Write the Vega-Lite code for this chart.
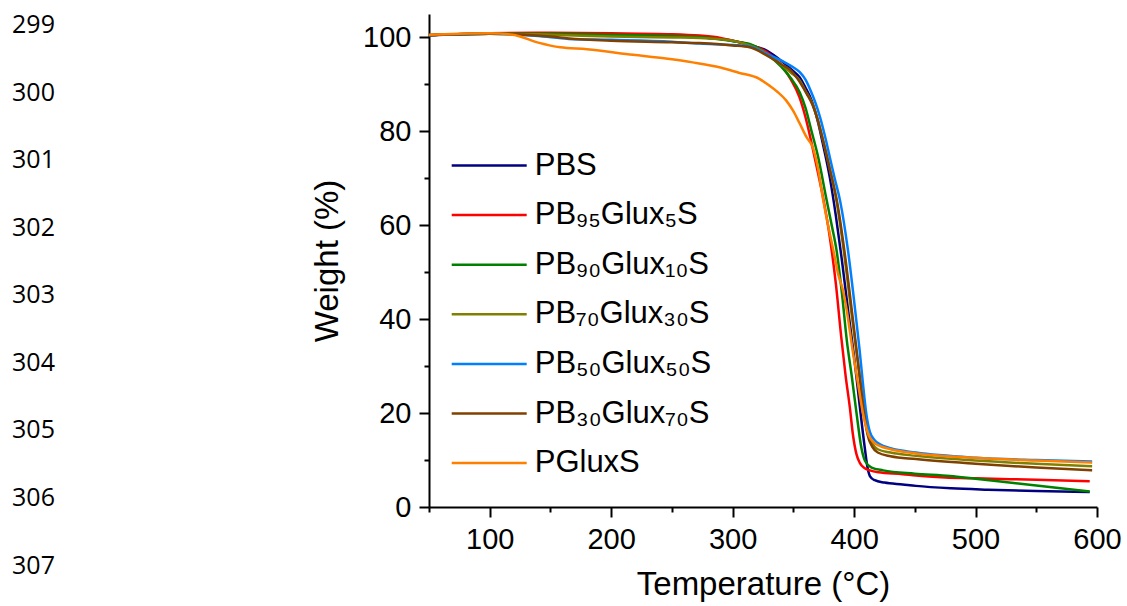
{
  "$schema": "https://vega.github.io/schema/vega-lite/v6.json",
  "padding": {"left": 0, "top": 13, "right": 0, "bottom": 0},
  "background": "white",
  "bounds": "flush",
  "spacing": 362,
  "config": {
    "view": {"stroke": null},
    "axis": {
      "domainColor": "black", "domainWidth": 2, "tickColor": "black", "tickWidth": 2,
      "labelColor": "black", "titleColor": "black",
      "labelFont": "Liberation Sans", "titleFont": "Liberation Sans",
      "labelFontSize": 29, "titleFontSize": 33, "titleFontWeight": "normal", "grid": false
    },
    "legend": {"labelFont": "Liberation Sans", "labelColor": "black"}
  },
  "resolve": {"scale": {"x": "independent", "y": "independent", "color": "independent"}, "legend": {"color": "independent"}},
  "hconcat": [
    {
      "width": 67, "height": 593,
      "data": {"values": [{"line": 299}, {"line": 300}, {"line": 301}, {"line": 302}, {"line": 303}, {"line": 304}, {"line": 305}, {"line": 306}, {"line": 307}]},
      "mark": {"type": "text", "font": "Open Sans", "fontSize": 25, "color": "black"},
      "encoding": {
        "y": {"field": "line", "type": "quantitative", "scale": {"domain": [298.837, 307.614], "reverse": true, "nice": false, "zero": false}, "axis": null},
        "text": {"field": "line", "type": "nominal"}
      }
    },
    {
      "width": 668, "height": 493,
      "data": {"values": [
        {"s":"PBS","t":50,"w":100.5},{"s":"PBS","t":75,"w":100.7},{"s":"PBS","t":100,"w":100.8},{"s":"PBS","t":150,"w":100.8},{"s":"PBS","t":200,"w":100.6},{"s":"PBS","t":250,"w":100.3},{"s":"PBS","t":280,"w":99.9},{"s":"PBS","t":300,"w":99.3},{"s":"PBS","t":314,"w":98.4},{"s":"PBS","t":328,"w":97.2},{"s":"PBS","t":341.6,"w":94.7},{"s":"PBS","t":350,"w":92.8},{"s":"PBS","t":355.3,"w":91.5},{"s":"PBS","t":360,"w":89.3},{"s":"PBS","t":365,"w":86.6},{"s":"PBS","t":370,"w":82.3},{"s":"PBS","t":375,"w":76.5},{"s":"PBS","t":380,"w":70.2},{"s":"PBS","t":385,"w":62},{"s":"PBS","t":390,"w":52.5},{"s":"PBS","t":395,"w":42},{"s":"PBS","t":400,"w":32},{"s":"PBS","t":404,"w":23},{"s":"PBS","t":408.8,"w":12.6},{"s":"PBS","t":411,"w":8.5},{"s":"PBS","t":413,"w":6.6},{"s":"PBS","t":417,"w":5.7},{"s":"PBS","t":425,"w":5.2},{"s":"PBS","t":440,"w":4.8},{"s":"PBS","t":451,"w":4.5},{"s":"PBS","t":480,"w":4.0},{"s":"PBS","t":510,"w":3.7},{"s":"PBS","t":550,"w":3.4},{"s":"PBS","t":594,"w":3.2},
        {"s":"PB₉₅Glux₅S","t":50,"w":100.5},{"s":"PB₉₅Glux₅S","t":100,"w":100.9},{"s":"PB₉₅Glux₅S","t":150,"w":101.0},{"s":"PB₉₅Glux₅S","t":200,"w":100.9},{"s":"PB₉₅Glux₅S","t":250,"w":100.7},{"s":"PB₉₅Glux₅S","t":273,"w":100.4},{"s":"PB₉₅Glux₅S","t":290,"w":99.9},{"s":"PB₉₅Glux₅S","t":300,"w":99.3},{"s":"PB₉₅Glux₅S","t":315,"w":98.4},{"s":"PB₉₅Glux₅S","t":328,"w":96.9},{"s":"PB₉₅Glux₅S","t":336,"w":95.2},{"s":"PB₉₅Glux₅S","t":342,"w":93.4},{"s":"PB₉₅Glux₅S","t":348,"w":91.0},{"s":"PB₉₅Glux₅S","t":355,"w":87.3},{"s":"PB₉₅Glux₅S","t":360,"w":83},{"s":"PB₉₅Glux₅S","t":365,"w":77.5},{"s":"PB₉₅Glux₅S","t":370,"w":71.5},{"s":"PB₉₅Glux₅S","t":375,"w":65.2},{"s":"PB₉₅Glux₅S","t":380,"w":57.5},{"s":"PB₉₅Glux₅S","t":385,"w":47.5},{"s":"PB₉₅Glux₅S","t":389.5,"w":36},{"s":"PB₉₅Glux₅S","t":393,"w":28},{"s":"PB₉₅Glux₅S","t":396.5,"w":21.2},{"s":"PB₉₅Glux₅S","t":399,"w":15.5},{"s":"PB₉₅Glux₅S","t":402,"w":11.2},{"s":"PB₉₅Glux₅S","t":404.7,"w":9.4},{"s":"PB₉₅Glux₅S","t":408.8,"w":8.25},{"s":"PB₉₅Glux₅S","t":413,"w":7.8},{"s":"PB₉₅Glux₅S","t":420,"w":7.4},{"s":"PB₉₅Glux₅S","t":440,"w":7.0},{"s":"PB₉₅Glux₅S","t":451,"w":6.7},{"s":"PB₉₅Glux₅S","t":475,"w":6.3},{"s":"PB₉₅Glux₅S","t":500,"w":6.1},{"s":"PB₉₅Glux₅S","t":550,"w":5.8},{"s":"PB₉₅Glux₅S","t":594,"w":5.5},
        {"s":"PB₉₀Glux₁₀S","t":50,"w":100.5},{"s":"PB₉₀Glux₁₀S","t":100,"w":100.8},{"s":"PB₉₀Glux₁₀S","t":150,"w":100.8},{"s":"PB₉₀Glux₁₀S","t":200,"w":100.6},{"s":"PB₉₀Glux₁₀S","t":250,"w":100.3},{"s":"PB₉₀Glux₁₀S","t":273,"w":100.1},{"s":"PB₉₀Glux₁₀S","t":300,"w":99.2},{"s":"PB₉₀Glux₁₀S","t":314,"w":98.6},{"s":"PB₉₀Glux₁₀S","t":328,"w":96.5},{"s":"PB₉₀Glux₁₀S","t":340,"w":93.8},{"s":"PB₉₀Glux₁₀S","t":348,"w":91.3},{"s":"PB₉₀Glux₁₀S","t":355.3,"w":88.3},{"s":"PB₉₀Glux₁₀S","t":360,"w":85},{"s":"PB₉₀Glux₁₀S","t":365,"w":80},{"s":"PB₉₀Glux₁₀S","t":370,"w":75},{"s":"PB₉₀Glux₁₀S","t":377.5,"w":65.2},{"s":"PB₉₀Glux₁₀S","t":382,"w":59.5},{"s":"PB₉₀Glux₁₀S","t":385.6,"w":54.6},{"s":"PB₉₀Glux₁₀S","t":390,"w":45.5},{"s":"PB₉₀Glux₁₀S","t":394,"w":35.5},{"s":"PB₉₀Glux₁₀S","t":398,"w":28},{"s":"PB₉₀Glux₁₀S","t":402,"w":20},{"s":"PB₉₀Glux₁₀S","t":406,"w":12.6},{"s":"PB₉₀Glux₁₀S","t":409,"w":9.8},{"s":"PB₉₀Glux₁₀S","t":414.4,"w":8.4},{"s":"PB₉₀Glux₁₀S","t":424,"w":7.8},{"s":"PB₉₀Glux₁₀S","t":450,"w":7.1},{"s":"PB₉₀Glux₁₀S","t":479,"w":6.6},{"s":"PB₉₀Glux₁₀S","t":500,"w":6.0},{"s":"PB₉₀Glux₁₀S","t":550,"w":4.6},{"s":"PB₉₀Glux₁₀S","t":594,"w":3.3},
        {"s":"PB₇₀Glux₃₀S","t":50,"w":100.5},{"s":"PB₇₀Glux₃₀S","t":100,"w":100.8},{"s":"PB₇₀Glux₃₀S","t":150,"w":100.6},{"s":"PB₇₀Glux₃₀S","t":200,"w":100.2},{"s":"PB₇₀Glux₃₀S","t":250,"w":100.0},{"s":"PB₇₀Glux₃₀S","t":273,"w":99.9},{"s":"PB₇₀Glux₃₀S","t":300,"w":99.3},{"s":"PB₇₀Glux₃₀S","t":314,"w":98.3},{"s":"PB₇₀Glux₃₀S","t":328,"w":96.6},{"s":"PB₇₀Glux₃₀S","t":341,"w":94},{"s":"PB₇₀Glux₃₀S","t":348,"w":92.5},{"s":"PB₇₀Glux₃₀S","t":355.3,"w":90.8},{"s":"PB₇₀Glux₃₀S","t":360,"w":88.6},{"s":"PB₇₀Glux₃₀S","t":365.5,"w":86},{"s":"PB₇₀Glux₃₀S","t":370,"w":82.5},{"s":"PB₇₀Glux₃₀S","t":375,"w":77.5},{"s":"PB₇₀Glux₃₀S","t":380,"w":72},{"s":"PB₇₀Glux₃₀S","t":385.5,"w":65.2},{"s":"PB₇₀Glux₃₀S","t":391.5,"w":54.6},{"s":"PB₇₀Glux₃₀S","t":398,"w":41},{"s":"PB₇₀Glux₃₀S","t":402,"w":33},{"s":"PB₇₀Glux₃₀S","t":405,"w":26.9},{"s":"PB₇₀Glux₃₀S","t":408,"w":20.5},{"s":"PB₇₀Glux₃₀S","t":411,"w":16},{"s":"PB₇₀Glux₃₀S","t":414.5,"w":13.8},{"s":"PB₇₀Glux₃₀S","t":419.5,"w":12.3},{"s":"PB₇₀Glux₃₀S","t":430,"w":11.6},{"s":"PB₇₀Glux₃₀S","t":451,"w":10.9},{"s":"PB₇₀Glux₃₀S","t":500,"w":9.9},{"s":"PB₇₀Glux₃₀S","t":550,"w":9.2},{"s":"PB₇₀Glux₃₀S","t":596,"w":8.7},
        {"s":"PB₅₀Glux₅₀S","t":50,"w":100.5},{"s":"PB₅₀Glux₅₀S","t":100,"w":100.8},{"s":"PB₅₀Glux₅₀S","t":140,"w":100.3},{"s":"PB₅₀Glux₅₀S","t":165,"w":99.7},{"s":"PB₅₀Glux₅₀S","t":200,"w":99.5},{"s":"PB₅₀Glux₅₀S","t":250,"w":99.1},{"s":"PB₅₀Glux₅₀S","t":273,"w":98.7},{"s":"PB₅₀Glux₅₀S","t":300,"w":98.4},{"s":"PB₅₀Glux₅₀S","t":314,"w":98.1},{"s":"PB₅₀Glux₅₀S","t":328,"w":96.5},{"s":"PB₅₀Glux₅₀S","t":341.6,"w":94.9},{"s":"PB₅₀Glux₅₀S","t":349,"w":93.8},{"s":"PB₅₀Glux₅₀S","t":355.3,"w":92.6},{"s":"PB₅₀Glux₅₀S","t":360,"w":91},{"s":"PB₅₀Glux₅₀S","t":364,"w":88.8},{"s":"PB₅₀Glux₅₀S","t":368,"w":86.2},{"s":"PB₅₀Glux₅₀S","t":372,"w":83},{"s":"PB₅₀Glux₅₀S","t":376,"w":79},{"s":"PB₅₀Glux₅₀S","t":380,"w":74.5},{"s":"PB₅₀Glux₅₀S","t":384,"w":70},{"s":"PB₅₀Glux₅₀S","t":388.5,"w":65.2},{"s":"PB₅₀Glux₅₀S","t":395,"w":54.6},{"s":"PB₅₀Glux₅₀S","t":401.5,"w":40.5},{"s":"PB₅₀Glux₅₀S","t":404.5,"w":33.5},{"s":"PB₅₀Glux₅₀S","t":407,"w":27},{"s":"PB₅₀Glux₅₀S","t":410,"w":20},{"s":"PB₅₀Glux₅₀S","t":413,"w":16},{"s":"PB₅₀Glux₅₀S","t":417,"w":14.2},{"s":"PB₅₀Glux₅₀S","t":421,"w":13.4},{"s":"PB₅₀Glux₅₀S","t":430,"w":12.5},{"s":"PB₅₀Glux₅₀S","t":451,"w":11.6},{"s":"PB₅₀Glux₅₀S","t":500,"w":10.5},{"s":"PB₅₀Glux₅₀S","t":550,"w":10.0},{"s":"PB₅₀Glux₅₀S","t":596,"w":9.7},
        {"s":"PB₃₀Glux₇₀S","t":50,"w":100.5},{"s":"PB₃₀Glux₇₀S","t":100,"w":100.8},{"s":"PB₃₀Glux₇₀S","t":150,"w":100.2},{"s":"PB₃₀Glux₇₀S","t":165,"w":99.8},{"s":"PB₃₀Glux₇₀S","t":200,"w":99.3},{"s":"PB₃₀Glux₇₀S","t":250,"w":99.0},{"s":"PB₃₀Glux₇₀S","t":273,"w":98.8},{"s":"PB₃₀Glux₇₀S","t":300,"w":98.3},{"s":"PB₃₀Glux₇₀S","t":314,"w":97.9},{"s":"PB₃₀Glux₇₀S","t":328,"w":96.2},{"s":"PB₃₀Glux₇₀S","t":340,"w":94.3},{"s":"PB₃₀Glux₇₀S","t":347,"w":93.2},{"s":"PB₃₀Glux₇₀S","t":355.3,"w":90.5},{"s":"PB₃₀Glux₇₀S","t":361,"w":88},{"s":"PB₃₀Glux₇₀S","t":366,"w":85.5},{"s":"PB₃₀Glux₇₀S","t":370,"w":82.5},{"s":"PB₃₀Glux₇₀S","t":375,"w":77.5},{"s":"PB₃₀Glux₇₀S","t":380,"w":72},{"s":"PB₃₀Glux₇₀S","t":386,"w":65},{"s":"PB₃₀Glux₇₀S","t":392,"w":54.6},{"s":"PB₃₀Glux₇₀S","t":399,"w":40},{"s":"PB₃₀Glux₇₀S","t":405,"w":27},{"s":"PB₃₀Glux₇₀S","t":408,"w":20.5},{"s":"PB₃₀Glux₇₀S","t":411,"w":15.5},{"s":"PB₃₀Glux₇₀S","t":415,"w":12.8},{"s":"PB₃₀Glux₇₀S","t":419.5,"w":11.6},{"s":"PB₃₀Glux₇₀S","t":430,"w":10.8},{"s":"PB₃₀Glux₇₀S","t":451,"w":10.2},{"s":"PB₃₀Glux₇₀S","t":500,"w":9.2},{"s":"PB₃₀Glux₇₀S","t":550,"w":8.4},{"s":"PB₃₀Glux₇₀S","t":596,"w":7.8},
        {"s":"PGluxS","t":50,"w":100.6},{"s":"PGluxS","t":75,"w":100.8},{"s":"PGluxS","t":100,"w":100.9},{"s":"PGluxS","t":119,"w":100.6},{"s":"PGluxS","t":140,"w":98.9},{"s":"PGluxS","t":158,"w":97.9},{"s":"PGluxS","t":180,"w":97.5},{"s":"PGluxS","t":218,"w":96.3},{"s":"PGluxS","t":245,"w":95.5},{"s":"PGluxS","t":267,"w":94.7},{"s":"PGluxS","t":290,"w":93.6},{"s":"PGluxS","t":305,"w":92.5},{"s":"PGluxS","t":322,"w":91.2},{"s":"PGluxS","t":330,"w":89.8},{"s":"PGluxS","t":337,"w":88.4},{"s":"PGluxS","t":344,"w":86.6},{"s":"PGluxS","t":350,"w":84.3},{"s":"PGluxS","t":355,"w":81.8},{"s":"PGluxS","t":361,"w":78.7},{"s":"PGluxS","t":366,"w":76.6},{"s":"PGluxS","t":370,"w":72.5},{"s":"PGluxS","t":374.5,"w":65.5},{"s":"PGluxS","t":379,"w":59.5},{"s":"PGluxS","t":383,"w":54.6},{"s":"PGluxS","t":387,"w":49.5},{"s":"PGluxS","t":391,"w":46},{"s":"PGluxS","t":394,"w":41.8},{"s":"PGluxS","t":399,"w":33},{"s":"PGluxS","t":404,"w":25},{"s":"PGluxS","t":408,"w":19},{"s":"PGluxS","t":412,"w":15.3},{"s":"PGluxS","t":416,"w":13.8},{"s":"PGluxS","t":421,"w":13},{"s":"PGluxS","t":430,"w":12.3},{"s":"PGluxS","t":451,"w":11.4},{"s":"PGluxS","t":500,"w":10.5},{"s":"PGluxS","t":550,"w":9.9},{"s":"PGluxS","t":596,"w":9.45}
      ]},
      "mark": {"type": "line", "strokeWidth": 2.5, "interpolate": "monotone", "clip": true},
      "encoding": {
        "x": {"field": "t", "type": "quantitative", "scale": {"domain": [50, 600], "nice": false, "zero": false},
          "axis": {"title": "Temperature (°C)", "values": [50,100,150,200,250,300,350,400,450,500,550,600],
            "labelExpr": "datum.value % 100 === 0 ? datum.label : ''",
            "tickSize": {"condition": {"test": "datum.value % 100 === 0", "value": 10}, "value": 5},
            "labelPadding": 8, "titlePadding": 14, "labelFlush": false, "labelOverlap": false}},
        "y": {"field": "w", "type": "quantitative", "scale": {"domain": [0, 105], "nice": false, "zero": false},
          "axis": {"title": "Weight (%)", "values": [0,10,20,30,40,50,60,70,80,90,100],
            "labelExpr": "datum.value % 20 === 0 ? datum.label : ''",
            "tickSize": {"condition": {"test": "datum.value % 20 === 0", "value": 10}, "value": 5},
            "labelPadding": 8, "titlePadding": 18, "labelOverlap": false}},
        "color": {"field": "s", "type": "nominal",
          "scale": {"domain": ["PBS","PB₉₅Glux₅S","PB₉₀Glux₁₀S","PB₇₀Glux₃₀S","PB₅₀Glux₅₀S","PB₃₀Glux₇₀S","PGluxS"],
                    "range": ["#000080","#ff0000","#008000","#808000","#0080ff","#804000","#ff8000"]},
          "legend": {"orient": "none", "legendX": 44.7, "legendY": 136, "title": null, "symbolType": "M-5,0H5", "symbolSize": 225,
            "symbolStrokeWidth": 2.5, "labelFontSize": 31, "labelOffset": 30, "rowPadding": 17.6, "padding": 0, "labelLimit": 500}}
      }
    }
  ]
}
